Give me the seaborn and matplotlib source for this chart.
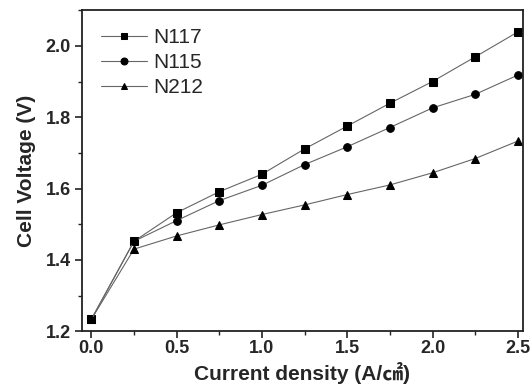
import pandas as pd
import seaborn as sns
import matplotlib.pyplot as plt
from matplotlib.ticker import MultipleLocator

# values
current = [0.0, 0.25, 0.5, 0.75, 1.0, 1.25, 1.5, 1.75, 2.0, 2.25, 2.5]
n117 = [1.233, 1.452, 1.532, 1.591, 1.640, 1.711, 1.775, 1.839, 1.900, 1.969, 2.039]
n115 = [1.233, 1.452, 1.510, 1.566, 1.609, 1.667, 1.717, 1.771, 1.826, 1.864, 1.918]
n212 = [1.233, 1.430, 1.467, 1.498, 1.527, 1.554, 1.583, 1.610, 1.644, 1.684, 1.733]
names = ['N117', 'N115', 'N212']

df = pd.DataFrame({'Current': current * 3,
                   'Voltage': n117 + n115 + n212,
                   'Membrane': [n for n in names for _ in current]})

sns.set_style('ticks')
fonts = ['Liberation Sans', 'Noto Sans CJK KR', 'DejaVu Sans']
plt.rcParams['font.family'] = fonts

fig = plt.figure(figsize=(5.32, 3.91), dpi=100)
ax = fig.add_axes([0.154, 0.153, 0.829, 0.821])

sns.lineplot(data=df, x='Current', y='Voltage', hue='Membrane', style='Membrane',
             markers={'N117': 's', 'N115': 'o', 'N212': '^'}, dashes=False,
             palette={n: '#666666' for n in names}, linewidth=0.8,
             markersize=5.5, markeredgecolor='black', ax=ax)
for line in ax.lines:
    line.set_markerfacecolor('black')

ax.set_xlim(-0.055, 2.53)
ax.set_ylim(1.2, 2.1)
ax.xaxis.set_major_locator(MultipleLocator(0.5))
ax.xaxis.set_minor_locator(MultipleLocator(0.25))
ax.yaxis.set_major_locator(MultipleLocator(0.2))
ax.yaxis.set_minor_locator(MultipleLocator(0.1))
ax.tick_params(which='major', length=5, width=1.2, direction='out', color='#222222')
ax.tick_params(axis='x', which='major', pad=1)
ax.tick_params(axis='y', which='major', pad=3)
ax.tick_params(which='minor', length=3, width=1.0, direction='out', color='#222222')
for lab in ax.get_xticklabels() + ax.get_yticklabels():
    lab.set_fontweight('bold')
    lab.set_fontsize(13)
    lab.set_family(fonts)
for sp in ax.spines.values():
    sp.set_linewidth(1.3)
    sp.set_color('#222222')

ax.set_xlabel('Current density (A/㎠)', fontsize=15, fontweight='bold',
              family=fonts, labelpad=4)
ax.set_ylabel('Cell Voltage (V)', fontsize=15, fontweight='bold',
              family=fonts, labelpad=7)

handles, labels = ax.get_legend_handles_labels()
for h in handles:
    h.set_markerfacecolor('black')
    h.set_markersize(5)
ax.legend(handles, labels, loc='upper left', frameon=False,
          prop={'family': fonts, 'size': 15},
          handlelength=2.2, handletextpad=0.3, labelspacing=0.3,
          borderaxespad=0.3, bbox_to_anchor=(0.01, 0.99))

fig.savefig('out.png', dpi=100)
